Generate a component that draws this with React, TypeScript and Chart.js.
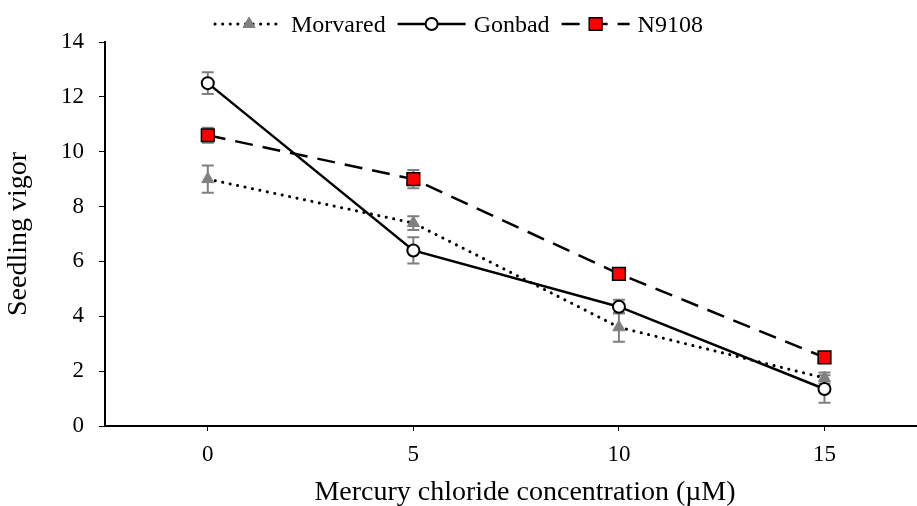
import React, { useEffect, useRef } from "react";
import { Chart, registerables } from "chart.js";
Chart.register(...registerables);

const concentrations = [0, 5, 10, 15];
const xTickValues = [0, 5, 10, 15];
const yTickValues = [0, 2, 4, 6, 8, 10, 12, 14];
const seriesNames = ["Morvared", "Gonbad", "N9108"];
const morvared = [9.0, 7.4, 3.6, 1.75];
const morvaredErr = [0.5, 0.25, 0.53, 0.2];
const gonbad = [12.5, 6.4, 4.35, 1.35];
const gonbadErr = [0.4, 0.48, 0.25, 0.5];
const n9108 = [10.6, 9.0, 5.55, 2.5];
const n9108Err = [0.27, 0.33, 0.15, 0.12];
const errorSets = [morvaredErr, gonbadErr, n9108Err];
const xTitle = "Mercury chloride concentration (µM)";
const yTitle = "Seedling vigor";

const FONT = "'Liberation Serif', 'Times New Roman', serif";

const errorBarPlugin = {
  id: "errorBars",
  beforeDatasetsDraw(chart: any) {
    const { ctx, scales } = chart;
    const xs = scales.x;
    const ys = scales.y;
    ctx.save();
    ctx.strokeStyle = "#7f7f7f";
    ctx.lineWidth = 2;
    chart.data.datasets.forEach((ds: any, di: number) => {
      const errs = errorSets[di];
      ds.data.forEach((p: any, i: number) => {
        const px = xs.getPixelForValue(p.x);
        const top = ys.getPixelForValue(p.y + errs[i]);
        const bot = ys.getPixelForValue(p.y - errs[i]);
        ctx.beginPath();
        ctx.moveTo(px, top);
        ctx.lineTo(px, bot);
        ctx.moveTo(px - 6, top);
        ctx.lineTo(px + 6, top);
        ctx.moveTo(px - 6, bot);
        ctx.lineTo(px + 6, bot);
        ctx.stroke();
      });
    });
    ctx.restore();
  },
};

function drawMarker(ctx: CanvasRenderingContext2D, style: string, r: number, x: number, y: number) {
  ctx.beginPath();
  if (style === "circle") {
    ctx.arc(x, y, r, 0, Math.PI * 2);
  } else if (style === "rect") {
    const s = Math.SQRT1_2 * r;
    ctx.rect(x - s, y - s, 2 * s, 2 * s);
  } else if (style === "triangle") {
    const rad = (Math.PI * 2) / 3;
    const a = -Math.PI / 2;
    ctx.moveTo(x + Math.cos(a) * r, y + Math.sin(a) * r);
    ctx.lineTo(x + Math.cos(a + rad) * r, y + Math.sin(a + rad) * r);
    ctx.lineTo(x + Math.cos(a + 2 * rad) * r, y + Math.sin(a + 2 * rad) * r);
    ctx.closePath();
  }
  ctx.fill();
  ctx.stroke();
}

const legendPlugin = {
  id: "customLegend",
  afterDraw(chart: any) {
    const { ctx } = chart;
    const y = 24;
    let x = 215;
    const lineLen = 68;
    ctx.save();
    ctx.font = `24px ${FONT}`;
    ctx.textBaseline = "alphabetic";
    chart.data.datasets.forEach((ds: any) => {
      ctx.strokeStyle = "#000";
      ctx.lineWidth = ds.borderWidth;
      ctx.lineCap = ds.borderCapStyle || "butt";
      ctx.setLineDash(ds.borderDash || []);
      ctx.beginPath();
      ctx.moveTo(x, y);
      ctx.lineTo(x + lineLen, y);
      ctx.stroke();
      ctx.setLineDash([]);
      ctx.lineCap = "butt";
      const cx = x + lineLen / 2;
      ctx.fillStyle = ds.pointBackgroundColor;
      ctx.strokeStyle = ds.pointBorderColor;
      ctx.lineWidth = ds.pointBorderWidth;
      drawMarker(ctx, ds.pointStyle, ds.pointRadius, cx, y);
      ctx.fillStyle = "#000";
      ctx.textAlign = "left";
      ctx.fillText(ds.label, x + lineLen + 8, 32);
      x += lineLen + 8 + ctx.measureText(ds.label).width + 12;
    });
    // x-axis title (offset right as in the reference)
    ctx.font = `28px ${FONT}`;
    ctx.textAlign = "center";
    ctx.fillText(xTitle, 525, 500);
    ctx.restore();
  },
};

export default function App() {
  const ref = useRef<HTMLCanvasElement | null>(null);
  useEffect(() => {
    if (!ref.current) return;
    const toPts = (vals: number[]) => vals.map((v, i) => ({ x: concentrations[i], y: v }));
    const chart = new Chart(ref.current, {
      type: "line",
      data: {
        datasets: [
          {
            label: seriesNames[0],
            data: toPts(morvared),
            borderColor: "#000",
            borderWidth: 3,
            borderDash: [0.1, 7.5],
            borderCapStyle: "round",
            pointStyle: "triangle",
            pointRadius: 7,
            pointBackgroundColor: "#808080",
            pointBorderColor: "#808080",
            pointBorderWidth: 1,
            tension: 0,
            order: 3,
          },
          {
            label: seriesNames[1],
            data: toPts(gonbad),
            borderColor: "#000",
            borderWidth: 2.5,
            pointStyle: "circle",
            pointRadius: 6,
            pointBackgroundColor: "#fff",
            pointBorderColor: "#000",
            pointBorderWidth: 2,
            tension: 0,
            order: 1,
          },
          {
            label: seriesNames[2],
            data: toPts(n9108),
            borderColor: "#000",
            borderWidth: 2.5,
            borderDash: [18, 10],
            pointStyle: "rect",
            pointRadius: 9,
            pointBackgroundColor: "#ff0000",
            pointBorderColor: "#000",
            pointBorderWidth: 1.5,
            tension: 0,
            order: 2,
          },
        ] as any,
      },
      options: {
        animation: false,
        responsive: true,
        maintainAspectRatio: false,
        layout: { autoPadding: false, padding: { top: 42, right: 0, left: 0, bottom: 0 } },
        plugins: {
          legend: { display: false },
          tooltip: { enabled: false },
        },
        scales: {
          x: {
            type: "linear",
            min: -2.5,
            max: 17.25,
            afterBuildTicks: (s: any) => {
              s.ticks = xTickValues.map((v) => ({ value: v }));
            },
            afterFit: (s: any) => {
              s.height = 80;
              s.paddingLeft = 0;
              s.paddingRight = 0;
            },
            grid: { drawOnChartArea: false, drawTicks: true, tickLength: 5, color: "#000", lineWidth: 1 },
            border: { display: true, color: "#000", width: 2 },
            ticks: { color: "#000", font: { family: FONT, size: 23 }, padding: 10, maxRotation: 0 },
            title: { display: false },
          },
          y: {
            min: 0,
            max: 14,
            afterBuildTicks: (s: any) => {
              s.ticks = yTickValues.map((v) => ({ value: v }));
            },
            afterFit: (s: any) => {
              s.width = 105;
            },
            grid: { drawOnChartArea: false, drawTicks: true, tickLength: 6, color: "#000", lineWidth: 1 },
            border: { display: true, color: "#000", width: 2 },
            ticks: { color: "#000", font: { family: FONT, size: 23 }, padding: 15 },
            title: {
              display: true,
              text: yTitle,
              color: "#000",
              font: { family: FONT, size: 28 },
              padding: { top: 2, bottom: 0 },
            },
          },
        },
      } as any,
      plugins: [errorBarPlugin, legendPlugin],
    });
    return () => chart.destroy();
  }, []);
  return (
    <div style={{ position: "fixed", left: 0, top: 0, width: 917, height: 506, background: "#fff", overflow: "hidden" }}>
      <canvas ref={ref} />
    </div>
  );
}
